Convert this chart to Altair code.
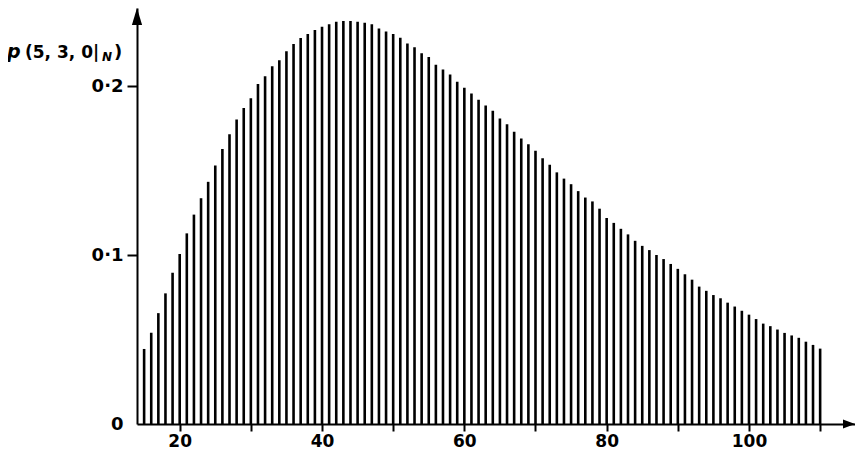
import altair as alt
import pandas as pd

# Values
N_VALUES = list(range(15, 111))
P_VALUES = [
    0.0444, 0.0540, 0.0656, 0.0773, 0.0895, 0.1006, 0.1128, 0.1239, 0.1336, 0.1433,  # 15-24
    0.1530, 0.1627, 0.1715, 0.1802, 0.1870, 0.1928, 0.2012, 0.2058, 0.2117, 0.2152,  # 25-34
    0.2206, 0.2249, 0.2284, 0.2307, 0.2332, 0.2351, 0.2365, 0.2380, 0.2384, 0.2384,  # 35-44
    0.2380, 0.2375, 0.2365, 0.2340, 0.2322, 0.2307, 0.2285, 0.2252, 0.2229, 0.2194,  # 45-54
    0.2171, 0.2126, 0.2097, 0.2068, 0.2025, 0.1990, 0.1955, 0.1918, 0.1885, 0.1854,  # 55-64
    0.1808, 0.1773, 0.1730, 0.1689, 0.1656, 0.1617, 0.1573, 0.1534, 0.1489, 0.1452,  # 65-74
    0.1419, 0.1378, 0.1340, 0.1317, 0.1274, 0.1219, 0.1190, 0.1155, 0.1122, 0.1084,  # 75-84
    0.1054, 0.1029, 0.1000, 0.0976, 0.0947, 0.0918, 0.0886, 0.0854, 0.0813, 0.0788,  # 85-94
    0.0763, 0.0744, 0.0718, 0.0695, 0.0670, 0.0647, 0.0621, 0.0594, 0.0579, 0.0559,  # 95-104
    0.0539, 0.0524, 0.0510, 0.0487, 0.0468, 0.0446,                                  # 105-110
]
X_TICKS = [20, 30, 40, 50, 60, 70, 80, 90, 100, 110]
Y_TICKS = [0, 0.1, 0.2]

df = pd.DataFrame({"N": N_VALUES, "p": P_VALUES})
one = pd.DataFrame({"k": [0]})

W, H = 718, 416
PX_PER_N = 7.116
PX_PER_P = (416 - 78) / 0.2
FONT = "DejaVu Sans"

x_scale = alt.Scale(domain=[14, 14 + W / PX_PER_N], nice=False, zero=False)
y_scale = alt.Scale(domain=[0, H / PX_PER_P], nice=False)

x_axis = alt.Axis(
    values=X_TICKS,
    labelExpr="datum.value % 20 == 0 ? datum.label : ''",
    format="d",
    grid=False,
    domainColor="black",
    domainWidth=2,
    tickColor="black",
    tickWidth=2,
    tickSize=7,
    labelFont=FONT,
    labelFontWeight="bold",
    labelFontSize=17,
    labelColor="black",
    labelPadding=2,
    labelFlush=False,
)
y_axis = alt.Axis(
    values=Y_TICKS,
    labelExpr="datum.value == 0 ? '0' : replace(format(datum.value, '.1f'), '.', '·')",
    grid=False,
    domainColor="black",
    domainWidth=2,
    tickColor="black",
    tickWidth=2,
    tickSize=10,
    tickOpacity={"condition": {"test": "datum.value == 0", "value": 0}, "value": 1},
    labelFont=FONT,
    labelFontWeight="bold",
    labelFontSize=18,
    labelColor="black",
    labelPadding=4,
    labelFlush=False,
)

stems = alt.Chart(df).mark_rule(color="black", strokeWidth=2.6).encode(
    x=alt.X("N:Q", scale=x_scale, axis=x_axis, title=None),
    y=alt.Y("p:Q", scale=y_scale, axis=y_axis, title=None),
    y2=alt.datum(0),
)

arrow_x = alt.Chart(one).mark_point(
    shape="M-1,-0.75 L1,0 L-1,0.75 Z", size=144, filled=True,
    color="black", opacity=1, strokeWidth=0,
).encode(x=alt.value(W - 6), y=alt.value(H))

arrow_y = alt.Chart(one).mark_point(
    shape="M-0.6,1 L0,-1 L0.6,1 Z", size=289, filled=True,
    color="black", opacity=1, strokeWidth=0,
).encode(x=alt.value(0), y=alt.value(8.5))


def txt(s, x, y, size, italic=False):
    kw = dict(text=s, font=FONT, fontSize=size, fontWeight="bold",
              align="left", baseline="alphabetic", color="black")
    if italic:
        kw["fontStyle"] = "italic"
    return alt.Chart(one).mark_text(**kw).encode(x=alt.value(x), y=alt.value(y))


t_p = txt("p", -130, 50, 19, italic=True)
t_args = txt("(5, 3, 0|", -112, 50, 17)
t_n = txt("N", -35, 53, 12, italic=True)
t_close = txt(")", -23, 50, 18)

chart = alt.layer(stems, arrow_x, arrow_y, t_p, t_args, t_n, t_close).properties(
    width=W,
    height=H,
    autosize=alt.AutoSizeParams(type="none"),
    padding={"left": 129, "top": 0, "right": 0, "bottom": 26},
).configure(background="white").configure_view(stroke="transparent", strokeWidth=0)

chart.save("out.html", embed_options={"renderer": "svg", "actions": False})
